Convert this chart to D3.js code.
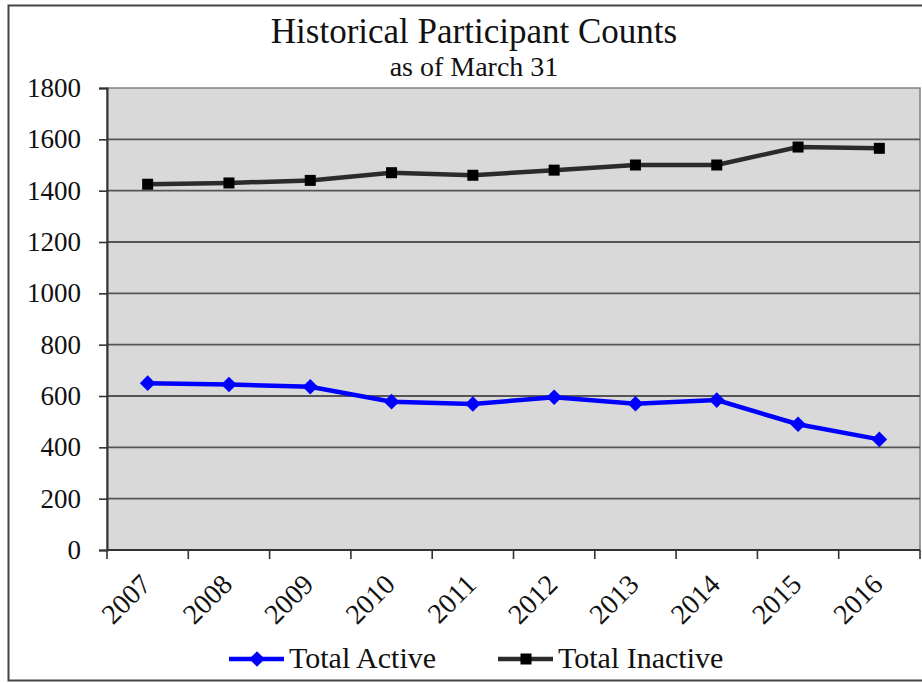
<!DOCTYPE html>
<html>
<head>
<meta charset="utf-8">
<script src="https://cdn.jsdelivr.net/npm/d3@7"></script>
<style>
  html, body { margin: 0; padding: 0; background: #fff; }
  svg { display: block; font-family: "Liberation Serif", "Times New Roman", serif; }
</style>
</head>
<body>
<div id="chart"></div>
<script>
const years = ["2007", "2008", "2009", "2010", "2011", "2012", "2013", "2014", "2015", "2016"];
const totalActive = [650, 645, 636, 578, 569, 595, 570, 584, 490, 431];
const totalInactive = [1425, 1430, 1440, 1470, 1460, 1480, 1500, 1500, 1570, 1565];
const yTicks = [0, 200, 400, 600, 800, 1000, 1200, 1400, 1600, 1800];

const width = 922, height = 683;
const plot = { left: 107, top: 88, right: 920, bottom: 550 };
const serif = "Liberation Serif, Times New Roman, serif";

const svg = d3.select("#chart").append("svg")
  .attr("width", width)
  .attr("height", height);

// outer chart frame
svg.append("rect")
  .attr("x", 8.5).attr("y", 5.5)
  .attr("width", 930).attr("height", 675)
  .attr("fill", "none")
  .attr("stroke", "#444")
  .attr("stroke-width", 2);

const x = d3.scaleBand().domain(years).range([plot.left, plot.right]);
const y = d3.scaleLinear().domain([0, 1800]).range([plot.bottom, plot.top]);

svg.append("rect")
  .attr("x", plot.left).attr("y", plot.top)
  .attr("width", plot.right - plot.left).attr("height", plot.bottom - plot.top)
  .attr("fill", "#d9d9d9")
  .attr("stroke", "#808080")
  .attr("stroke-width", 1.5);

// gridlines
svg.append("g")
  .selectAll("line")
  .data(yTicks.filter(d => d > 0 && d < 1800))
  .join("line")
  .attr("x1", plot.left).attr("x2", plot.right)
  .attr("y1", d => y(d)).attr("y2", d => y(d))
  .attr("stroke", "#555")
  .attr("stroke-width", 1.8);

// y axis
const yAxis = svg.append("g")
  .attr("transform", `translate(${plot.left},0)`)
  .call(d3.axisLeft(y).tickValues(yTicks).tickFormat(d3.format("d")).tickSize(8).tickPadding(18));
yAxis.select(".domain").attr("stroke", "#333").attr("stroke-width", 2);
yAxis.selectAll(".tick line").attr("stroke", "#333").attr("stroke-width", 1.6);
yAxis.selectAll("text")
  .attr("font-size", 27)
  .attr("fill", "#111")
  .attr("font-family", serif);

// x axis: ticks at category boundaries
const bounds = years.map(d => x(d)).concat([plot.right]);
svg.append("line")
  .attr("x1", plot.left).attr("x2", plot.right)
  .attr("y1", plot.bottom).attr("y2", plot.bottom)
  .attr("stroke", "#333").attr("stroke-width", 2);
svg.append("g")
  .selectAll("line")
  .data(bounds)
  .join("line")
  .attr("x1", d => d).attr("x2", d => d)
  .attr("y1", plot.bottom).attr("y2", plot.bottom + 9)
  .attr("stroke", "#333").attr("stroke-width", 1.6);

svg.append("g")
  .selectAll("text")
  .data(years)
  .join("text")
  .attr("transform", d => `translate(${x(d) + x.bandwidth() / 2 + 5},${plot.bottom + 36}) rotate(-45)`)
  .attr("text-anchor", "end")
  .attr("font-size", 28)
  .attr("fill", "#111")
  .text(d => d);

const cx = d => x(d) + x.bandwidth() / 2;

const line = d3.line().x((d, i) => cx(years[i])).y(d => y(d));

// inactive series
svg.append("path")
  .datum(totalInactive)
  .attr("d", line)
  .attr("fill", "none")
  .attr("stroke", "#2b2b2b")
  .attr("stroke-width", 4.5);
svg.append("g")
  .selectAll("rect")
  .data(totalInactive)
  .join("rect")
  .attr("x", (d, i) => cx(years[i]) - 5.5)
  .attr("y", d => y(d) - 5.5)
  .attr("width", 11).attr("height", 11)
  .attr("fill", "#000");

// active series
const diamond = d3.symbol().type(d3.symbolDiamond2).size(155);
svg.append("path")
  .datum(totalActive)
  .attr("d", line)
  .attr("fill", "none")
  .attr("stroke", "#0000ff")
  .attr("stroke-width", 4.5);
svg.append("g")
  .selectAll("path")
  .data(totalActive)
  .join("path")
  .attr("d", diamond)
  .attr("transform", (d, i) => `translate(${cx(years[i])},${y(d)})`)
  .attr("fill", "#0000ff");

// titles
svg.append("text")
  .attr("x", 474).attr("y", 43)
  .attr("text-anchor", "middle")
  .attr("font-size", 35)
  .attr("fill", "#111")
  .text("Historical Participant Counts");
svg.append("text")
  .attr("x", 474).attr("y", 76)
  .attr("text-anchor", "middle")
  .attr("font-size", 28)
  .attr("fill", "#111")
  .text("as of March 31");

// legend
const legend = svg.append("g");
legend.append("line")
  .attr("x1", 229).attr("x2", 284).attr("y1", 659).attr("y2", 659)
  .attr("stroke", "#0000ff").attr("stroke-width", 4.5);
legend.append("path")
  .attr("d", diamond)
  .attr("transform", "translate(257,659)")
  .attr("fill", "#0000ff");
legend.append("text")
  .attr("x", 289).attr("y", 668)
  .attr("font-size", 30).attr("fill", "#111")
  .text("Total Active");

legend.append("line")
  .attr("x1", 498).attr("x2", 553).attr("y1", 659).attr("y2", 659)
  .attr("stroke", "#2b2b2b").attr("stroke-width", 4.5);
legend.append("rect")
  .attr("x", 520.5).attr("y", 653.5).attr("width", 11).attr("height", 11)
  .attr("fill", "#000");
legend.append("text")
  .attr("x", 558).attr("y", 668)
  .attr("font-size", 30).attr("fill", "#111")
  .text("Total Inactive");
</script>
</body>
</html>
